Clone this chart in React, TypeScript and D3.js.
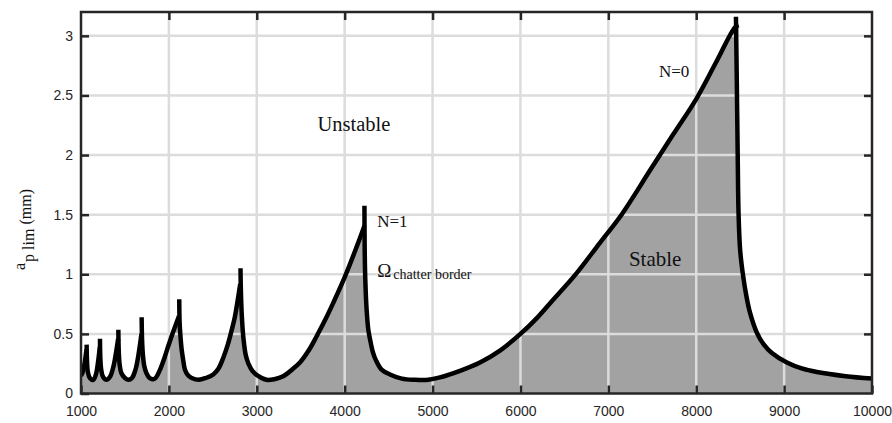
import React, { useRef, useEffect } from "react";
import * as d3 from "d3";

// stability lobes: spindle speed (rpm) vs limit depth of cut (mm)
// each lobe starts at the top of a spike and ends where it meets the next one
const lobe8 = [[1000, 0.15], [1015, 0.17], [1035, 0.23], [1052, 0.31], [1063, 0.37]];
const lobe7 = [[1064, 0.41], [1068, 0.28], [1078, 0.18], [1100, 0.13], [1140, 0.115], [1170, 0.16], [1195, 0.27], [1214, 0.39]];
const lobe6 = [[1216, 0.46], [1220, 0.3], [1230, 0.2], [1250, 0.14], [1290, 0.115], [1330, 0.14], [1370, 0.23], [1400, 0.35], [1423, 0.46]];
const lobe5 = [[1425, 0.535], [1430, 0.35], [1440, 0.24], [1460, 0.17], [1500, 0.13], [1540, 0.115], [1580, 0.13], [1620, 0.2], [1655, 0.33], [1688, 0.5]];
const lobe4 = [[1690, 0.64], [1695, 0.45], [1705, 0.32], [1720, 0.23], [1745, 0.17], [1790, 0.125], [1840, 0.125], [1899, 0.2], [1950, 0.3], [1994, 0.4], [2040, 0.5], [2070, 0.56], [2115, 0.65]];
const lobe3 = [[2118, 0.79], [2122, 0.6], [2135, 0.45], [2145, 0.37], [2165, 0.27], [2183, 0.2], [2220, 0.15], [2259, 0.13], [2340, 0.115], [2420, 0.13], [2505, 0.16], [2565, 0.21], [2619, 0.3], [2670, 0.41], [2714, 0.53], [2750, 0.64], [2778, 0.76], [2812, 0.92]];
const lobe2 = [[2815, 1.05], [2818, 0.9], [2830, 0.65], [2850, 0.45], [2875, 0.32], [2905, 0.25], [2950, 0.19], [3010, 0.15], [3110, 0.115], [3200, 0.12], [3300, 0.145], [3400, 0.2], [3491, 0.26], [3590, 0.36], [3681, 0.48], [3780, 0.62], [3870, 0.76], [4003, 0.98], [4136, 1.23], [4226, 1.41]];
const lobe1 = [[4225, 1.575], [4228, 1.2], [4235, 0.95], [4250, 0.7], [4270, 0.53], [4290, 0.45], [4320, 0.35], [4355, 0.28], [4420, 0.2], [4515, 0.16], [4650, 0.125], [4800, 0.115], [4950, 0.115], [5084, 0.135], [5312, 0.19], [5539, 0.26], [5767, 0.36], [6000, 0.5], [6170, 0.62], [6340, 0.76], [6640, 1.01], [6900, 1.26], [7150, 1.5], [7473, 1.87], [7735, 2.17], [8000, 2.47], [8220, 2.77], [8440, 3.07], [8482, 3.09]];
const lobe0 = [[8452, 3.16], [8462, 2.6], [8472, 2.0], [8482, 1.5], [8500, 1.2], [8531, 1.0], [8570, 0.82], [8611, 0.68], [8690, 0.51], [8770, 0.41], [8861, 0.34], [9032, 0.26], [9200, 0.21], [9373, 0.18], [9700, 0.145], [10000, 0.125]];

const lobes = [lobe8, lobe7, lobe6, lobe5, lobe4, lobe3, lobe2, lobe1, lobe0];

const xTicks = [1000, 2000, 3000, 4000, 5000, 6000, 7000, 8000, 9000, 10000];
const yTicks = [0, 0.5, 1, 1.5, 2, 2.5, 3];

const W = 892;
const H = 423;
const margin = { top: 12, right: 20, bottom: 29.5, left: 81 };

function LobeChart() {
  const ref = useRef(null);

  useEffect(() => {
    const svg = d3.select(ref.current);
    svg.selectAll("*").remove();

    const iw = W - margin.left - margin.right;
    const ih = H - margin.top - margin.bottom;

    const x = d3.scaleLinear().domain([1000, 10000]).range([0, iw]);
    const y = d3.scaleLinear().domain([0, 3.2]).range([ih, 0]);

    const g = svg.append("g").attr("transform", `translate(${margin.left},${margin.top})`);

    g.append("clipPath").attr("id", "plotclip")
      .append("rect").attr("width", iw).attr("height", ih);

    const plot = g.append("g").attr("clip-path", "url(#plotclip)");

    const curve = d3.curveCatmullRom.alpha(0.5);

    // stable region: everything under the lobes, spike tops left out
    const envelope = lobes.flatMap((l, i) => (i === 0 ? l : l.slice(1)));
    const area = d3.area()
      .x((d) => x(d[0]))
      .y0(ih)
      .y1((d) => y(d[1]))
      .curve(d3.curveMonotoneX);
    plot.append("path").attr("d", area(envelope)).attr("fill", "#a2a2a2");

    // grid
    plot.append("g").selectAll("line").data(xTicks.slice(1, -1)).join("line")
      .attr("x1", (d) => x(d)).attr("x2", (d) => x(d))
      .attr("y1", 0).attr("y2", ih)
      .attr("stroke", "#dcdcdc").attr("stroke-width", 2.5);
    plot.append("g").selectAll("line").data(yTicks.slice(1)).join("line")
      .attr("x1", 0).attr("x2", iw)
      .attr("y1", (d) => y(d)).attr("y2", (d) => y(d))
      .attr("stroke", "#dcdcdc").attr("stroke-width", 2.5);

    // the lobes
    const line = d3.line().x((d) => x(d[0])).y((d) => y(d[1])).curve(curve);
    plot.append("g").selectAll("path").data(lobes).join("path")
      .attr("d", (d) => line(d))
      .attr("fill", "none")
      .attr("stroke", "#000")
      .attr("stroke-width", 4.5)
      .attr("stroke-linecap", "butt");

    // axes with inward ticks on all four sides
    const ax = "#262626";
    const styleAxis = (sel) => {
      sel.select(".domain").remove();
      sel.selectAll(".tick line").attr("stroke", ax).attr("stroke-width", 2.5);
      sel.selectAll(".tick text")
        .attr("fill", ax)
        .style("font-family", "'Liberation Sans', Arial, sans-serif")
        .style("font-size", "14px");
    };

    g.append("g").attr("transform", `translate(0,${ih})`)
      .call(d3.axisBottom(x).tickValues(xTicks).tickFormat(d3.format("d")).tickSizeInner(-8).tickSizeOuter(0).tickPadding(13))
      .call(styleAxis);
    g.append("g")
      .call(d3.axisTop(x).tickValues(xTicks.slice(1, -1)).tickFormat(() => "").tickSizeInner(-8).tickSizeOuter(0))
      .call(styleAxis);
    g.append("g")
      .call(d3.axisLeft(y).tickValues(yTicks).tickFormat(d3.format("")).tickSizeInner(-8).tickSizeOuter(0).tickPadding(8))
      .call(styleAxis);
    g.append("g").attr("transform", `translate(${iw},0)`)
      .call(d3.axisRight(y).tickValues(yTicks.slice(1)).tickFormat(() => "").tickSizeInner(-8).tickSizeOuter(0))
      .call(styleAxis);

    g.append("rect")
      .attr("width", iw).attr("height", ih)
      .attr("fill", "none").attr("stroke", ax).attr("stroke-width", 2.5);

    // y label: a_p lim (mm)
    const serif = "'Liberation Serif', 'Times New Roman', serif";
    const yl = svg.append("text")
      .attr("transform", `translate(25,270) rotate(-90)`)
      .attr("fill", "#111")
      .style("font-family", serif)
      .style("font-size", "16px");
    yl.append("tspan").text("a");
    yl.append("tspan").attr("dy", 9).attr("dx", 1).text("p lim");
    yl.append("tspan").attr("dy", -3).text(" (mm)");

    // annotations
    const note = (t, px, py, size) =>
      g.append("text").attr("x", px).attr("y", py)
        .attr("fill", "#111")
        .style("font-family", serif).style("font-size", size + "px")
        .text(t);

    note("Unstable", x(3690), y(2.2), 20.5);
    note("N=1", x(4370), y(1.4), 17);
    note("N=0", x(7576), y(2.655), 17);
    note("Stable", x(7234), y(1.072), 21);

    const om = g.append("text").attr("x", x(4370)).attr("y", y(0.975))
      .attr("fill", "#111").style("font-family", serif).style("font-size", "19px");
    om.append("tspan").text("Ω");
    om.append("tspan").attr("dy", 2).attr("dx", 2).style("font-size", "14px").text("chatter border");
  }, []);

  return <svg ref={ref} width={W} height={H} style={{ position: "absolute", left: 0, top: 0, background: "#fff" }}></svg>;
}

export default function App() {
  return <LobeChart />;
}
